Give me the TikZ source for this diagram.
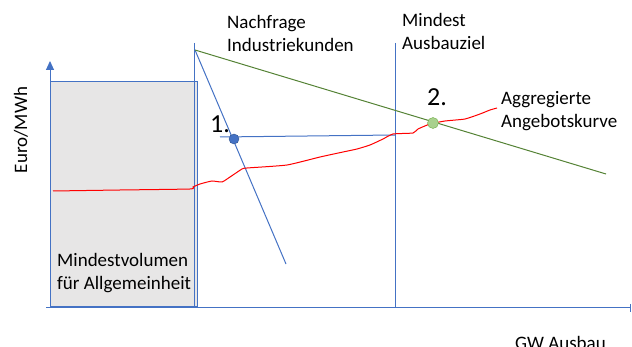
\documentclass[tikz,border=0pt]{standalone}
\usepackage{fontspec}
\setmainfont{Carlito}
\usetikzlibrary{arrows.meta}
\definecolor{achsblau}{HTML}{4472C4}
\definecolor{dunkelblau}{HTML}{2F528F}
\definecolor{nachfgruen}{HTML}{548235}
\definecolor{punktgruen}{HTML}{A9D18E}
\definecolor{randgruen}{HTML}{70AD47}
\definecolor{kastengrau}{HTML}{E7E6E6}

\begin{document}
\begin{tikzpicture}[x=1pt,y=-1pt,
	linie/.style={achsblau,line width=1pt},
	beschr/.style={font=\fontsize{19}{23}\selectfont,align=left,inner sep=0pt,anchor=base west},
	nummer/.style={font=\fontsize{26}{28}\selectfont,inner sep=0pt,anchor=base west}]
			\useasboundingbox (0,0) rectangle (632,347);
			\draw[linie,fill=kastengrau] (50,82) rectangle (197,307);
			\draw[linie,arrows={-Triangle[width=8pt,length=9pt]}] (50,307)--(50,61);
			\draw[linie,arrows={-Bar[width=8pt]}] (46,308)--(631,308);
			\draw[linie] (194,43)--(194,307);
			\draw[linie] (395,43)--(395,307);
			\draw[linie] (195,50)--(286,264);
			\draw[nachfgruen,line width=1pt] (195,50)--(606,174);
			\draw[linie] (220,137)--(395,135);
			\draw[red,line width=1pt] plot[smooth,tension=0.3] coordinates {(53,191) (120,190) (190,189) (193,187) (200,184) (212,181) (222,182) (230,177) (242,169) (247,168) (287,165) (320,157) (343,152) (357,149) (370,145) (383,139) (393,134) (413,133) (418,129) (430,124) (445,121) (465,119) (480,114) (490,110) (497,108)};
			\draw[dunkelblau,fill=achsblau] (234,139) circle (5);
			\draw[randgruen,fill=punktgruen] (433,123) circle (5.5);
			\node[nummer] (eins) at (210,133) {1.};
			\node[nummer] (zwei) at (427,106) {2.};
			\node[beschr] (nachfrage) at (227,52) {Nachfrage\\Industriekunden};
			\node[beschr] (mindest) at (402,50) {Mindest\\Ausbauziel};
			\node[beschr] (angebot) at (501,128) {Aggregierte\\Angebotskurve};
			\node[beschr] (volumen) at (57,290) {Mindestvolumen\\für Allgemeinheit};
			\node[beschr] (gw) at (515,349) {GW Ausbau};
			\node[beschr,rotate=90,anchor=center] (euro) at (21,130) {Euro/MWh};
		\end{tikzpicture}
\end{document}
